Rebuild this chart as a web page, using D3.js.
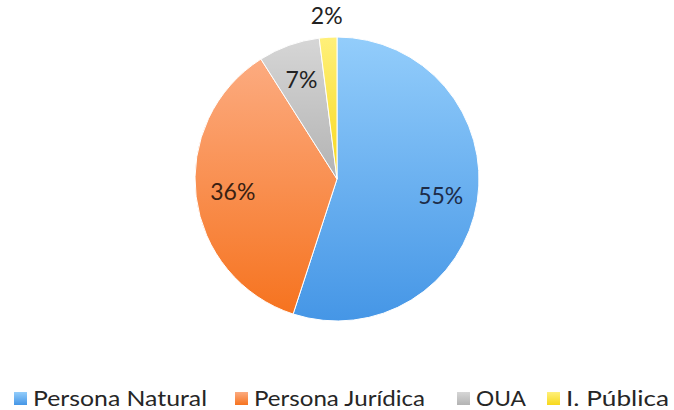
<!DOCTYPE html>
<meta charset="utf-8">
<style>
    body {
        margin: 0;
        background: #fff;
    }
    svg {
        display: block;
        font-family: Lato, "Open Sans", sans-serif;
    }
</style>

<body>
<div id="chart-container"></div>
<script src="https://cdnjs.cloudflare.com/ajax/libs/d3/7.8.5/d3.min.js"></script>
<script>
    // chart data
    var categories = ["Persona Natural", "Persona Jurídica", "OUA", "I. Pública"];
    var values = [55, 36, 7, 2];
    var labels = ["55%", "36%", "7%", "2%"];

    var width = 674,
        height = 410,
        cx = 337,
        cy = 179,
        radius = 142;

    // light -> dark gradient stops for each slice
    var lightColors = ["#93cdfb", "#fcab80", "#d6d6d6", "#fff07a"];
    var darkColors = ["#4596e6", "#f6731f", "#b3b3b3", "#f7d81c"];
    var textColors = ["#1d2c48", "#3a1f12", "#222", "#222"];

    var svg = d3.select("#chart-container").append("svg")
        .attr("width", width)
        .attr("height", height);

    var defs = svg.append("defs");
    categories.forEach(function(c, i) {
        var g = defs.append("linearGradient")
            .attr("id", "grad" + i)
            .attr("x1", 0).attr("y1", 0)
            .attr("x2", 0).attr("y2", 1);
        g.append("stop").attr("offset", "0%").attr("stop-color", lightColors[i]);
        g.append("stop").attr("offset", "100%").attr("stop-color", darkColors[i]);
    });

    var pie = d3.pie().sort(null).value(d => d)(values);
    var arc = d3.arc().innerRadius(0).outerRadius(radius);
    var labelArc = d3.arc().innerRadius(105).outerRadius(105);
    var outerArc = d3.arc().innerRadius(radius + 22).outerRadius(radius + 22);

    var view = svg.append("g")
        .attr("transform", "translate(" + cx + "," + cy + ")");

    view.selectAll("path")
        .data(pie)
        .enter().append("path")
        .attr("d", arc)
        .attr("fill", (d, i) => "url(#grad" + i + ")")
        .attr("stroke", "#fff")
        .attr("stroke-width", 1);

    // small slices get their label outside the pie
    view.selectAll("text")
        .data(pie)
        .enter().append("text")
        .attr("transform", d => {
            var p = (d.data < 5 ? outerArc : labelArc).centroid(d);
            return "translate(" + p[0] + "," + p[1] + ")";
        })
        .attr("text-anchor", "middle")
        .attr("dy", "0.36em")
        .attr("font-size", 23)
        .attr("fill", (d, i) => textColors[i])
        .text((d, i) => labels[i]);

    // legend along the bottom
    var legendX = [14, 235, 457, 547];
    var legendW = [174, 171, 50, 103];
    var legend = svg.append("g").selectAll("g")
        .data(categories)
        .enter().append("g")
        .attr("transform", (d, i) => "translate(" + legendX[i] + ",392)");

    legend.append("rect")
        .attr("width", 13)
        .attr("height", 13)
        .attr("fill", (d, i) => "url(#grad" + i + ")");

    legend.append("text")
        .attr("x", 19)
        .attr("y", 14)
        .attr("font-size", 22)
        .attr("fill", "#262626")
        .attr("textLength", (d, i) => legendW[i])
        .attr("lengthAdjust", "spacingAndGlyphs")
        .text(d => d);
</script>
</body>
